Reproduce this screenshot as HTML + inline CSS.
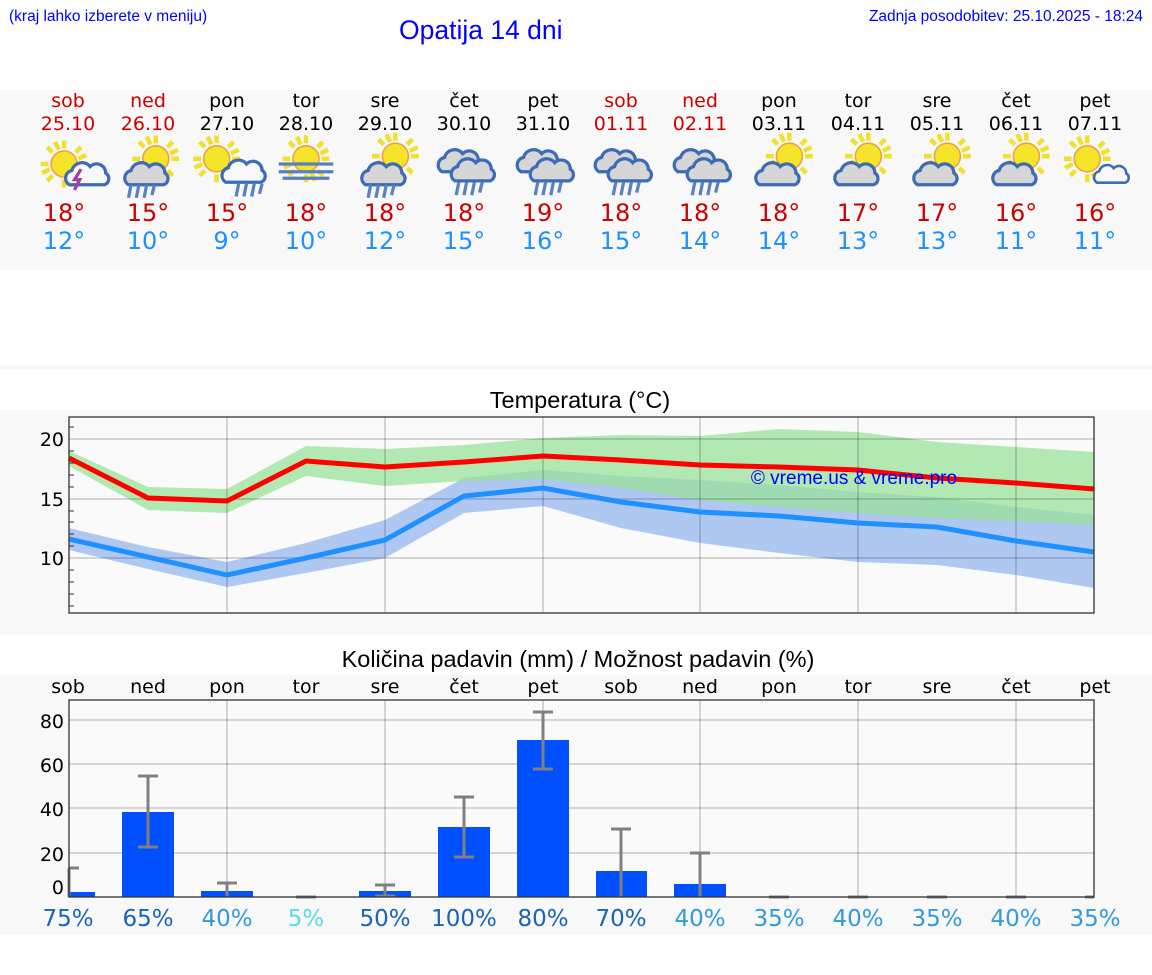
<!DOCTYPE html>
<html><head><meta charset="utf-8"><style>
html,body{margin:0;padding:0;background:#fff;}
svg{display:block;}
text{font-family:"DejaVu Sans","Liberation Sans",sans-serif;}
</style></head><body>
<svg width="1152" height="975" viewBox="0 0 1152 975" xmlns="http://www.w3.org/2000/svg">
<defs>
<g id="sun">
 <g stroke="#f2e030" stroke-width="3.5" stroke-linecap="butt">
  <line x1="0" y1="-18" x2="0" y2="-12"/><line x1="0" y1="18" x2="0" y2="12"/>
  <line x1="-18" y1="0" x2="-12" y2="0"/><line x1="18" y1="0" x2="12" y2="0"/>
  <line x1="-13" y1="-13" x2="-9" y2="-9"/><line x1="13" y1="13" x2="9" y2="9"/>
  <line x1="-13" y1="13" x2="-9" y2="9"/><line x1="13" y1="-13" x2="9" y2="-9"/>
  <line x1="-7" y1="-17" x2="-4" y2="-11"/><line x1="7" y1="17" x2="4" y2="11"/>
  <line x1="-17" y1="7" x2="-11" y2="4"/><line x1="17" y1="-7" x2="11" y2="-4"/>
 </g>
 <circle r="10" fill="#f4e52a" stroke="#f0a040" stroke-width="1.2"/>
</g>
<path id="cloud" d="M3,20 a6,6 0 0 1 2,-11 a8,8 0 0 1 14,-3 a7,7 0 0 1 12,5 a5,5 0 0 1 -1,9 z" fill="#d6d6d6" stroke="#3d6cb5" stroke-width="2.5"/>
<path id="cloudw" d="M3,20 a6,6 0 0 1 2,-11 a8,8 0 0 1 14,-3 a7,7 0 0 1 12,5 a5,5 0 0 1 -1,9 z" fill="#f8f8f8" stroke="#3d6cb5" stroke-width="2.5"/>
<g id="rain" stroke="#5a82c0" stroke-width="2.5"><line x1="3" y1="0" x2="1" y2="10"/><line x1="9" y1="0" x2="7" y2="10"/><line x1="15" y1="0" x2="13" y2="10"/><line x1="21" y1="0" x2="19" y2="8"/></g>
<g id="suncloud"><use href="#sun" x="8" y="-6"/><use href="#cloud" x="-18" y="-4"/></g>
</defs>

<text x="9" y="21" font-size="15.5" fill="#0000ff" style="font-family:'Liberation Sans',sans-serif">(kraj lahko izberete v meniju)</text>
<text x="399" y="39" font-size="26.5" fill="#0000ff" style="font-family:'Liberation Sans',sans-serif">Opatija 14 dni</text>
<text x="1143" y="21" font-size="15.5" fill="#0000ff" text-anchor="end" style="font-family:'Liberation Sans',sans-serif">Zadnja posodobitev: 25.10.2025 - 18:24</text>

<rect x="0" y="90" width="1152" height="180" fill="#f8f8f8"/>
<rect x="0" y="365" width="1152" height="5" fill="#f8f8f8"/>

<g font-size="19" text-anchor="middle">
 <g fill="#cc0000"><text x="68" y="107">sob</text><text x="68" y="130">25.10</text><text x="148" y="107">ned</text><text x="148" y="130">26.10</text>
 <text x="621" y="107">sob</text><text x="621" y="130">01.11</text><text x="700" y="107">ned</text><text x="700" y="130">02.11</text></g>
 <g fill="#000"><text x="227" y="107">pon</text><text x="227" y="130">27.10</text><text x="306" y="107">tor</text><text x="306" y="130">28.10</text>
 <text x="385" y="107">sre</text><text x="385" y="130">29.10</text><text x="464" y="107">čet</text><text x="464" y="130">30.10</text>
 <text x="543" y="107">pet</text><text x="543" y="130">31.10</text><text x="779" y="107">pon</text><text x="779" y="130">03.11</text>
 <text x="858" y="107">tor</text><text x="858" y="130">04.11</text><text x="937" y="107">sre</text><text x="937" y="130">05.11</text>
 <text x="1016" y="107">čet</text><text x="1016" y="130">06.11</text><text x="1095" y="107">pet</text><text x="1095" y="130">07.11</text></g>
</g>

<g transform="translate(68,164) scale(1.3)"><use href="#sun" x="-3"/><use href="#cloudw" x="-2" y="-4"/><path d="M10,4 l-5,8 h4 l-4,8" stroke="#a040a0" stroke-width="2.5" fill="none"/></g>
<g transform="translate(148,164) scale(1.3)"><use href="#sun" x="6" y="-4"/><use href="#cloud" x="-18" y="-4"/><use href="#rain" x="-16" y="16"/></g>
<g transform="translate(227,164) scale(1.3)"><use href="#sun" x="-8" y="-4"/><use href="#cloudw" x="-4" y="-6"/><use href="#rain" x="6" y="15"/></g>
<g transform="translate(306,164) scale(1.3)"><use href="#sun" y="-4"/><g stroke="#5a7fbf" stroke-width="2.5"><line x1="-21" y1="0" x2="21" y2="0"/><line x1="-21" y1="6" x2="21" y2="6"/><line x1="-18" y1="11" x2="18" y2="11"/></g></g>
<g transform="translate(385,164) scale(1.3)"><use href="#sun" x="8" y="-6"/><use href="#cloud" x="-18" y="-4"/><use href="#rain" x="-14" y="16"/></g>
<g transform="translate(464,164) scale(1.3)"><use href="#cloud" x="-20" y="-14"/><use href="#cloud" x="-10" y="-7"/><use href="#rain" x="-7" y="14"/></g>
<g transform="translate(543,164) scale(1.3)"><use href="#cloud" x="-20" y="-14"/><use href="#cloud" x="-10" y="-7"/><use href="#rain" x="-7" y="14"/></g>
<g transform="translate(621,164) scale(1.3)"><use href="#cloud" x="-20" y="-14"/><use href="#cloud" x="-10" y="-7"/><use href="#rain" x="-7" y="14"/></g>
<g transform="translate(700,164) scale(1.3)"><use href="#cloud" x="-20" y="-14"/><use href="#cloud" x="-10" y="-7"/><use href="#rain" x="-7" y="14"/></g>
<g transform="translate(779,164) scale(1.3)"><use href="#suncloud"/></g>
<g transform="translate(858,164) scale(1.3)"><use href="#suncloud"/></g>
<g transform="translate(937,164) scale(1.3)"><use href="#suncloud"/></g>
<g transform="translate(1016,164) scale(1.3)"><use href="#suncloud"/></g>
<g transform="translate(1095,164) scale(1.3)"><use href="#sun" x="-6" y="-4"/><use href="#cloudw" x="-1" y="-2" transform="scale(0.8)"/></g>

<g font-size="24" text-anchor="middle">
 <g fill="#cc0000"><text x="64" y="221">18°</text><text x="148" y="221">15°</text><text x="227" y="221">15°</text><text x="306" y="221">18°</text><text x="385" y="221">18°</text><text x="464" y="221">18°</text><text x="543" y="221">19°</text><text x="621" y="221">18°</text><text x="700" y="221">18°</text><text x="779" y="221">18°</text><text x="858" y="221">17°</text><text x="937" y="221">17°</text><text x="1016" y="221">16°</text><text x="1095" y="221">16°</text></g>
 <g fill="#1e90ff"><text x="64" y="249">12°</text><text x="148" y="249">10°</text><text x="227" y="249">9°</text><text x="306" y="249">10°</text><text x="385" y="249">12°</text><text x="464" y="249">15°</text><text x="543" y="249">16°</text><text x="621" y="249">15°</text><text x="700" y="249">14°</text><text x="779" y="249">14°</text><text x="858" y="249">13°</text><text x="937" y="249">13°</text><text x="1016" y="249">11°</text><text x="1095" y="249">11°</text></g>
</g>

<rect x="0" y="410" width="1152" height="225" fill="#f8f8f8"/>
<text x="580" y="408" font-size="23.5" text-anchor="middle" style="font-family:'Liberation Sans',sans-serif">Temperatura (°C)</text>
<rect x="69" y="417" width="1025" height="196" fill="#fafafa"/>
<polygon fill="#afc8f2" points="69,528 148,547 227,562 306,543 385,520 464,478 543,470 621,476 700,480 779,485 858,492 937,497 1016,507 1094,515 1094,588 1016,575 937,565 858,562 779,553 700,543 621,528 543,506 464,513 385,558 306,573 227,587 148,569 69,550"/>
<polygon fill="#9ae29a" fill-opacity="0.75" points="69,451 148,487 227,489 306,446 385,449 464,445 543,438 621,435 700,436 779,429 858,432 937,442 1016,447 1094,452 1094,525 1016,521 937,518 858,513 779,507 700,500 621,488 543,479 464,481 385,486 306,476 227,513 148,510 69,466"/>
<g stroke="#000" stroke-opacity="0.15" stroke-width="2">
 <line x1="227" y1="417" x2="227" y2="613"/><line x1="385" y1="417" x2="385" y2="613"/><line x1="543" y1="417" x2="543" y2="613"/><line x1="700" y1="417" x2="700" y2="613"/><line x1="858" y1="417" x2="858" y2="613"/><line x1="1016" y1="417" x2="1016" y2="613"/>
 <line x1="69" y1="439" x2="1094" y2="439"/><line x1="69" y1="499" x2="1094" y2="499"/><line x1="69" y1="558" x2="1094" y2="558"/>
</g>
<polyline fill="none" stroke="#ff0000" stroke-width="5" points="69,458 148,498 227,501 306,461 385,467 464,462 543,456 621,460 700,465 779,467 858,470 937,478 1016,483 1094,489"/>
<polyline fill="none" stroke="#1e90ff" stroke-width="5" points="69,539 148,557 227,575 306,558 385,540 464,496 543,488 621,502 700,512 779,516 858,523 937,527 1016,541 1094,552"/>
<text x="854" y="484" font-size="19" fill="#0000ff" text-anchor="middle" style="font-family:'Liberation Sans',sans-serif">© vreme.us &amp; vreme.pro</text>
<rect x="69" y="417" width="1025" height="196" fill="none" stroke="#333" stroke-width="1.3"/>
<g stroke="#333" stroke-width="1">
 <line x1="69" y1="427" x2="74" y2="427"/><line x1="69" y1="451" x2="74" y2="451"/><line x1="69" y1="463" x2="74" y2="463"/><line x1="69" y1="475" x2="74" y2="475"/><line x1="69" y1="487" x2="74" y2="487"/><line x1="69" y1="511" x2="74" y2="511"/><line x1="69" y1="522" x2="74" y2="522"/><line x1="69" y1="534" x2="74" y2="534"/><line x1="69" y1="546" x2="74" y2="546"/><line x1="69" y1="570" x2="74" y2="570"/><line x1="69" y1="582" x2="74" y2="582"/><line x1="69" y1="594" x2="74" y2="594"/><line x1="69" y1="606" x2="74" y2="606"/>
</g>
<g font-size="19" text-anchor="end"><text x="64" y="446">20</text><text x="64" y="506">15</text><text x="64" y="565">10</text></g>

<rect x="0" y="675" width="1152" height="260" fill="#f8f8f8"/>
<text x="578" y="667" font-size="23.5" text-anchor="middle" style="font-family:'Liberation Sans',sans-serif">Količina padavin (mm) / Možnost padavin (%)</text>
<g font-size="19" text-anchor="middle"><text x="68" y="693">sob</text><text x="148" y="693">ned</text><text x="227" y="693">pon</text><text x="306" y="693">tor</text><text x="385" y="693">sre</text><text x="464" y="693">čet</text><text x="543" y="693">pet</text><text x="621" y="693">sob</text><text x="700" y="693">ned</text><text x="779" y="693">pon</text><text x="858" y="693">tor</text><text x="937" y="693">sre</text><text x="1016" y="693">čet</text><text x="1095" y="693">pet</text></g>
<rect x="69" y="700" width="1025" height="197" fill="#fafafa"/>
<g stroke="#000" stroke-opacity="0.15" stroke-width="2">
 <line x1="227" y1="700" x2="227" y2="897"/><line x1="385" y1="700" x2="385" y2="897"/><line x1="543" y1="700" x2="543" y2="897"/><line x1="700" y1="700" x2="700" y2="897"/><line x1="858" y1="700" x2="858" y2="897"/><line x1="1016" y1="700" x2="1016" y2="897"/>
 <line x1="69" y1="720" x2="1094" y2="720"/><line x1="69" y1="764" x2="1094" y2="764"/><line x1="69" y1="808" x2="1094" y2="808"/><line x1="69" y1="853" x2="1094" y2="853"/>
</g>
<g fill="#0050ff">
 <rect x="69" y="892" width="26" height="5"/><rect x="122" y="812" width="52" height="85"/><rect x="201" y="891" width="52" height="6"/><rect x="359" y="891" width="52" height="6"/><rect x="438" y="827" width="52" height="70"/><rect x="517" y="740" width="52" height="157"/><rect x="596" y="871" width="51" height="26"/><rect x="674" y="884" width="52" height="13"/>
</g>
<g stroke="#808080" stroke-width="3" fill="none">
 <path d="M69,868 H79 M69,868 V897"/>
 <path d="M138,776 H158 M148,776 V847 M138,847 H158"/>
 <path d="M217,883 H237 M227,883 V897"/>
 <path d="M375,885 H395 M385,885 V897 M375,896 H395"/>
 <path d="M454,797 H474 M464,797 V857 M454,857 H474"/>
 <path d="M533,712 H553 M543,712 V769 M533,769 H553"/>
 <path d="M611,829 H631 M621,829 V897"/>
 <path d="M690,853 H710 M700,853 V897"/>
 <path d="M296,897 H316 M769,897 H789 M848,897 H868 M927,897 H947 M1006,897 H1026 M1085,897 H1094"/>
</g>
<rect x="69" y="700" width="1025" height="197" fill="none" stroke="#333" stroke-width="1.3"/>
<g font-size="19" text-anchor="end"><text x="64" y="728">80</text><text x="64" y="772">60</text><text x="64" y="816">40</text><text x="64" y="861">20</text><text x="64" y="894">0</text></g>
<g font-size="23" text-anchor="middle">
 <text x="68" y="926" fill="#1a63b8">75%</text><text x="148" y="926" fill="#1a63b8">65%</text><text x="227" y="926" fill="#3399dd">40%</text><text x="306" y="926" fill="#5cd8ea">5%</text><text x="385" y="926" fill="#1a63b8">50%</text><text x="464" y="926" fill="#1a63b8">100%</text><text x="543" y="926" fill="#1a63b8">80%</text><text x="621" y="926" fill="#1a63b8">70%</text><text x="700" y="926" fill="#3399dd">40%</text><text x="779" y="926" fill="#3399dd">35%</text><text x="858" y="926" fill="#3399dd">40%</text><text x="937" y="926" fill="#3399dd">35%</text><text x="1016" y="926" fill="#3399dd">40%</text><text x="1095" y="926" fill="#3399dd">35%</text>
</g>
</svg>
</body></html>
